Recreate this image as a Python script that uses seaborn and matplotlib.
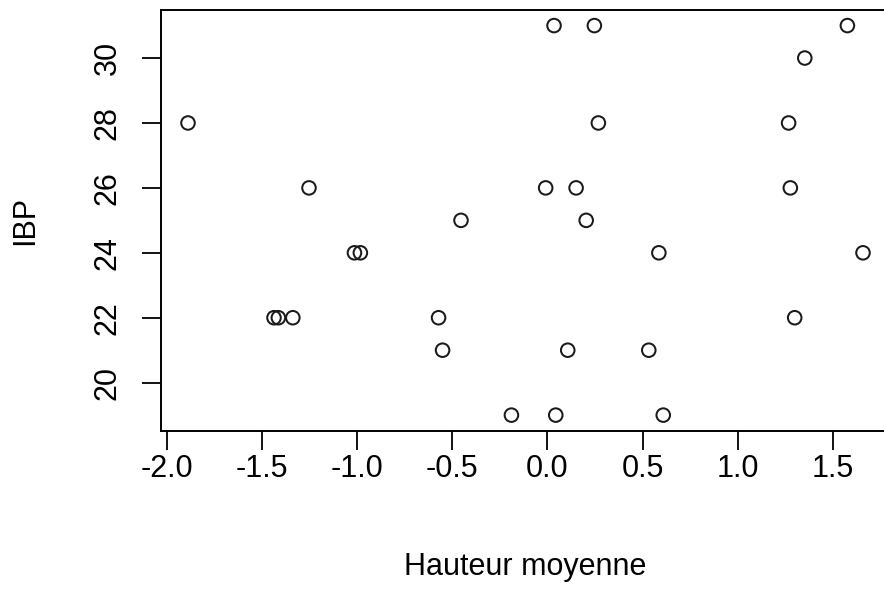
import numpy as np
import pandas as pd
import matplotlib
matplotlib.use("Agg")
import matplotlib.pyplot as plt
import seaborn as sns

# valeurs
hauteur_moyenne = [-1.889, -1.253, 0.035, 0.247, 0.268, -0.009, 0.151, -0.454,
                   0.204, 1.577, 1.353, 1.268, 1.277, -1.014, -0.983, -1.437,
                   -1.414, -1.338, -0.572, -0.551, 0.586, 0.107, 0.533, -0.189,
                   0.044, 0.609, 1.659, 1.300]
ibp = [28, 26, 31, 31, 28, 26, 26, 25,
       25, 31, 30, 28, 26, 24, 24, 22,
       22, 22, 22, 21, 24, 21, 21, 19,
       19, 19, 24, 22]

x_ticks = [-2.0, -1.5, -1.0, -0.5, 0.0, 0.5, 1.0, 1.5]
y_ticks = [20, 22, 24, 26, 28, 30]

df = pd.DataFrame({"Hauteur moyenne": hauteur_moyenne, "IBP": ibp})

sns.set_style("white")
plt.rcParams["font.family"] = ["Liberation Sans", "DejaVu Sans"]
taille = 22

fig = plt.figure(figsize=(8.84, 5.92), dpi=100)
W, H = 884, 592
ax = fig.add_axes([161 / W, (H - 430.7) / H, 729 / W, 420.7 / H])

sns.scatterplot(data=df, x="Hauteur moyenne", y="IBP", ax=ax,
                marker="o", s=95, facecolor="none", edgecolor="#1a1a1a",
                linewidth=1.45)


# limites a la maniere de R (4 % de marge)
def r_lim(v):
    lo, hi = min(v), max(v)
    pad = 0.04 * (hi - lo)
    return lo - pad, hi + pad


ax.set_xlim(*r_lim(hauteur_moyenne))
ax.set_ylim(*r_lim(ibp))

ax.set_xticks(x_ticks)
ax.set_xticklabels([f"{t:.1f}" for t in x_ticks], fontsize=taille)
ax.set_yticks(y_ticks)
ax.set_yticklabels([str(t) for t in y_ticks], fontsize=taille, rotation=90, va="center")

ax.tick_params(axis="both", direction="out", length=13.5, width=1.3,
               color="black", labelcolor="black", bottom=True, left=True)
ax.tick_params(axis="x", pad=3)
ax.tick_params(axis="y", pad=14)

for sp in ax.spines.values():
    sp.set_color("black")
    sp.set_linewidth(1.4)

ax.set_xlabel("Hauteur moyenne", fontsize=taille, color="black")
ax.set_ylabel("IBP", fontsize=taille, color="black")
ax.xaxis.set_label_coords(0.5, -0.324)
ax.yaxis.set_label_coords(-0.1866, 0.5)
ax.xaxis.label.set_va("center")
ax.yaxis.label.set_va("center")

fig.savefig("out.png", dpi=100, facecolor="white")
